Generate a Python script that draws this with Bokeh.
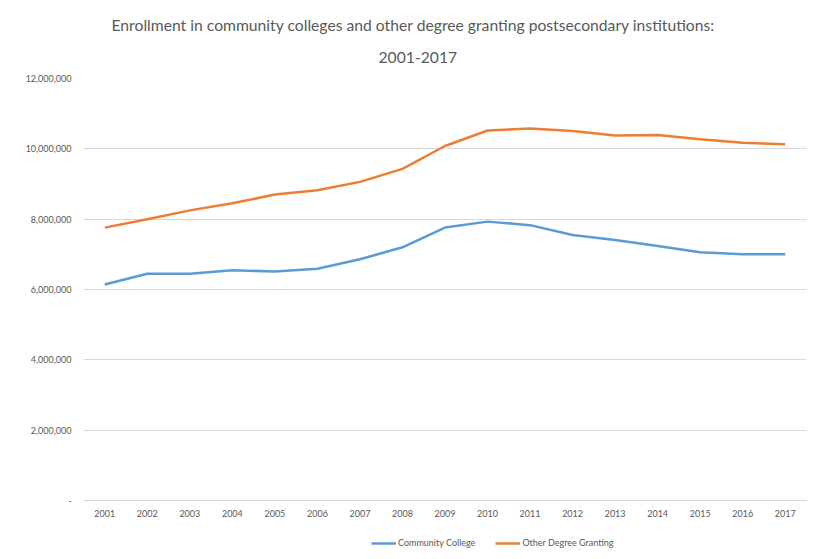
from bokeh.plotting import figure
from bokeh.models import Range1d, FixedTicker, Legend, LegendItem, Title, ColumnDataSource
from bokeh.layouts import column
from bokeh.embed import file_html
from bokeh.resources import INLINE

years = [str(y) for y in range(2001, 2018)]
community_college = [6140000, 6450000, 6450000, 6550000, 6510000, 6590000, 6860000, 7200000,
                     7760000, 7930000, 7830000, 7550000, 7410000, 7240000, 7060000, 7000000, 7000000]
other_degree = [7760000, 8000000, 8250000, 8450000, 8700000, 8820000, 9060000, 9430000,
                10080000, 10520000, 10580000, 10510000, 10380000, 10390000, 10270000, 10170000, 10130000]
y_ticks = [0, 2000000, 4000000, 6000000, 8000000, 10000000, 12000000]
y_tick_labels = ["-", "2,000,000", "4,000,000", "6,000,000", "8,000,000", "10,000,000", "12,000,000"]
title_lines = ["Enrollment in community colleges and other degree granting postsecondary institutions:",
               "2001-2017"]
series_names = ["Community College", "Other Degree Granting"]
series_colors = ["#5B9BD5", "#ED7D31"]

FONT = "Lato"
GRAY = "#595959"
GRID = "#d9d9d9"

src = ColumnDataSource(dict(x=years, cc=community_college, od=other_degree))

p = figure(frame_width=723, frame_height=422, x_range=years, y_range=Range1d(0, 12000000),
           output_backend="svg", toolbar_location=None,
           min_border_left=83, min_border_right=10, min_border_top=78, min_border_bottom=30)
p.outline_line_color = None

p.line("x", "cc", source=src, line_color=series_colors[0], line_width=2.5)
p.line("x", "od", source=src, line_color=series_colors[1], line_width=2.5)

t2 = Title(text=title_lines[1], align="left", text_font=FONT, text_font_size="15.7px",
           text_color=GRAY, text_font_style="normal", offset=295, standoff=32)
t1 = Title(text=title_lines[0], align="left", text_font=FONT, text_font_size="15.7px",
           text_color=GRAY, text_font_style="normal", offset=28, standoff=0)
p.add_layout(t2, "above")
p.add_layout(t1, "above")

# axes
p.yaxis.ticker = FixedTicker(ticks=y_ticks)
p.yaxis.major_label_overrides = {t: l for t, l in zip(y_ticks, y_tick_labels)}
p.yaxis.axis_line_color = None
p.yaxis.major_tick_line_color = None
p.yaxis.major_tick_out = 0
p.yaxis.major_tick_in = 0
p.yaxis.minor_tick_line_color = None
p.yaxis.major_label_text_font = FONT
p.yaxis.major_label_text_font_size = "9px"
p.yaxis.major_label_text_color = GRAY
p.yaxis.major_label_standoff = 12

p.xaxis.axis_line_color = GRID
p.xaxis.major_tick_line_color = None
p.xaxis.major_tick_out = 0
p.xaxis.major_tick_in = 0
p.xaxis.minor_tick_line_color = None
p.xaxis.major_label_text_font = FONT
p.xaxis.major_label_text_font_size = "9px"
p.xaxis.major_label_text_color = GRAY
p.xaxis.major_label_standoff = 9

p.xgrid.grid_line_color = None
p.ygrid.grid_line_color = GRID
p.ygrid.grid_line_width = 1

# legend strip below the chart (its lines sit outside its visible range; only the key shows)
q = figure(width=816, height=24, x_range=years, y_range=Range1d(-2, -1),
           output_backend="svg", toolbar_location=None, x_axis_type=None, y_axis_type=None,
           min_border_left=0, min_border_right=0, min_border_top=0, min_border_bottom=0)
q.outline_line_color = None
q.xgrid.grid_line_color = None
q.ygrid.grid_line_color = None
k1 = q.line("x", "cc", source=src, line_color=series_colors[0], line_width=2.5)
k2 = q.line("x", "od", source=src, line_color=series_colors[1], line_width=2.5)
legend = Legend(items=[LegendItem(label=series_names[0], renderers=[k1]),
                       LegendItem(label=series_names[1], renderers=[k2])],
                orientation="horizontal", location=(288, 6),
                label_text_font=FONT, label_text_font_size="9px", label_text_color=GRAY,
                border_line_color=None, background_fill_alpha=0,
                glyph_width=25, glyph_height=10, label_height=10,
                label_standoff=2, spacing=20, padding=0, margin=0)
q.add_layout(legend, "center")

open("out.html", "w").write(file_html(column(p, q, spacing=0), INLINE))
